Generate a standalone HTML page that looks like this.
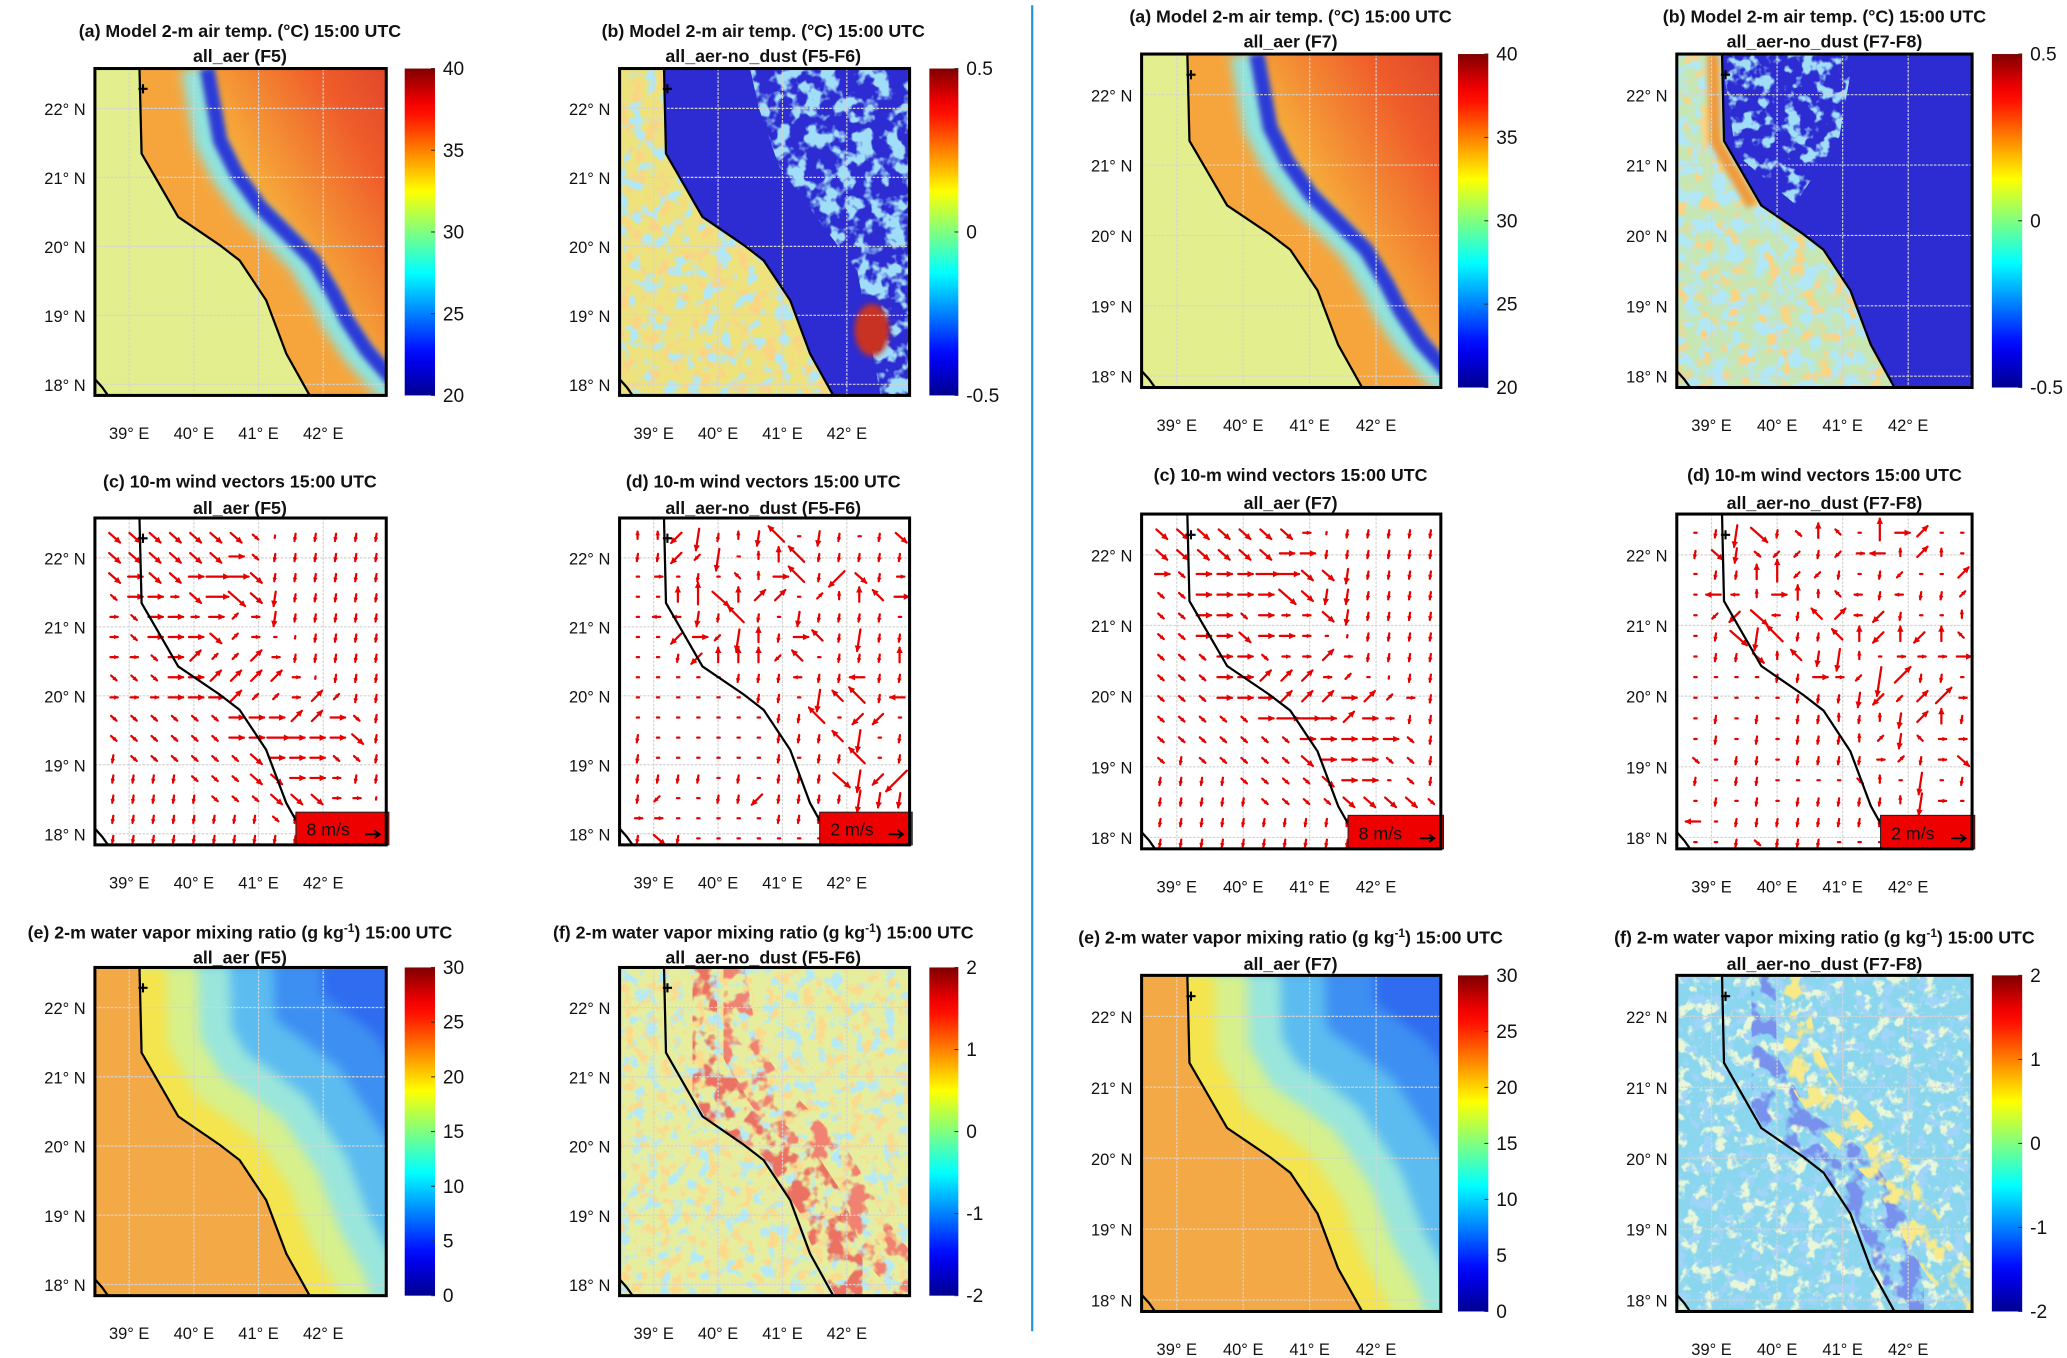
<!DOCTYPE html>
<html><head><meta charset="utf-8"><title>Model 2-m temperature, wind and moisture</title>
<style>
html,body{margin:0;padding:0;background:#fff;}
svg{display:block;}
text{font-family:"Liberation Sans",sans-serif;fill:#111;}
.t{font-weight:bold;font-size:13.5px;}
.tk{font-size:12.5px;}
.cbl{font-size:14.5px;}
</style></head>
<body>
<svg id="fig" xmlns="http://www.w3.org/2000/svg" width="2067" height="1358" viewBox="0 0 1568 1030.3" preserveAspectRatio="none">
<defs>
<linearGradient id="jet" x1="0" y1="1" x2="0" y2="0">
<stop offset="0" stop-color="#00008f"/><stop offset="0.1" stop-color="#0000e8"/><stop offset="0.14" stop-color="#0010ff"/>
<stop offset="0.375" stop-color="#00ffff"/><stop offset="0.625" stop-color="#ffff00"/><stop offset="0.86" stop-color="#ff1000"/><stop offset="0.9" stop-color="#ee0000"/><stop offset="1" stop-color="#800000"/>
</linearGradient>
<linearGradient id="gEast" x1="0" y1="1" x2="1" y2="0">
<stop offset="0" stop-color="#f2da4a"/><stop offset="0.45" stop-color="#f6aa3a"/><stop offset="0.75" stop-color="#ef5c2a"/><stop offset="1" stop-color="#d83a2c"/>
</linearGradient>
<filter id="bl2" x="-50%" y="-50%" width="200%" height="200%"><feGaussianBlur stdDeviation="2"/></filter>
<filter id="bl4" x="-50%" y="-50%" width="200%" height="200%"><feGaussianBlur stdDeviation="4"/></filter>
<filter id="bl8" x="-50%" y="-50%" width="200%" height="200%"><feGaussianBlur stdDeviation="8"/></filter>
</defs>
</svg>
<script>
// ---------- data ----------
const TEMP_TICKS = [20, 25, 30, 35, 40];
const DTEMP_TICKS = [-0.5, 0, 0.5];
const QV_TICKS = [0, 5, 10, 15, 20, 25, 30];
const DQV_TICKS = [-2, -1, 0, 1, 2];
const LAT_LABELS = ['22', '21', '20', '19', '18'];
const LON_LABELS = ['39', '40', '41', '42'];
const LAT_VALUES = [22, 21, 20, 19, 18];
const LON_VALUES = [39, 40, 41, 42];
const WIND_C5 = [
"se2 se2 se2 se2 se2 se2 se2 se1 s0 s1 s1 s1 s1 s1",
"se2 se2 se2 se2 se2 se2 e2 se1 s1 s1 s1 s1 s1 s1",
"se2 e2 se2 se2 e2 e3 e3 se2 s1 s1 s1 s1 s1 s1",
"se1 e2 e2 e1 se2 e3 se3 se2 s2 s1 s1 s1 s1 s1",
"e1 se1 e2 e2 e1 e2 ne1 e1 s2 s1 s1 s1 s1 s1",
"e1 se1 e2 e2 e2 se2 ne1 e1 e0 s0 s1 s1 s1 s1",
"e1 e1 se1 e2 ne2 ne1 ne1 ne2 e1 s1 s1 s1 s1 s1",
"se1 se1 se1 e2 e2 ne2 ne2 ne2 ne2 e1 s0 s1 s1 s1",
"e1 e1 e1 e2 e2 e2 ne2 ne1 ne1 e1 ne2 ne1 s1 s1",
"se1 se1 se1 se1 se1 se1 e2 e2 e2 ne2 ne2 e2 se1 s1",
"se1 se1 se1 se1 se1 se1 e2 e2 e3 e2 e2 e2 se2 s1",
"s1 se1 se1 se1 se1 se1 se1 se2 e2 e2 e2 se1 se1 s1",
"s1 s1 s1 s1 se1 se1 se1 se2 se2 e2 e2 e1 s1 s1",
"s1 s1 s1 s1 s1 se1 se1 se1 se2 se2 se2 e1 e1 s0",
"s1 s1 s1 s1 s1 s1 s1 s1 se1 s1 s1 s1 s1 s1",
"s1 s1 s1 s1 s1 s1 s1 s1 s1 s1 s1 s1 s1 s1"];
const WIND_D5 = [
"n1 n1 sw2 s3 s1 n1 s2 nw3 e0 s2 s1 e0 s1 se2",
"s1 s1 sw2 sw1 s3 e0 n1 n2 nw3 s1 s1 s1 s1 s1",
"e0 e1 e0 s1 e0 nw1 n1 e2 nw3 s1 sw3 se2 s1 e1",
"e0 e0 n2 n3 se3 n2 ne2 ne2 e0 ne1 n1 n2 nw2 e2",
"e0 w1 w1 s2 s1 nw3 s1 e0 s2 s1 s1 s1 s1 e0",
"e0 e0 sw2 e2 sw1 s3 n2 s1 e2 nw2 s1 s3 s1 s1",
"e0 e0 s1 sw2 n2 n2 n2 sw1 nw2 e0 s1 s1 s1 n2",
"e0 e0 e0 e0 e0 s1 s1 s1 w1 s1 s1 w2 s1 s1",
"e0 e0 e0 e0 e0 e0 s1 s1 e0 s3 nw2 nw3 s1 w2",
"e0 e0 e0 e0 e0 e0 e0 s1 s1 nw3 e0 sw2 sw2 e0",
"s1 e0 e0 e0 e0 e0 e0 s1 s1 s1 nw2 s3 e0 s1",
"s1 e0 e0 e0 e0 e0 e0 s1 e0 s1 s1 nw3 e0 s1",
"s1 s1 s1 s1 e0 s1 e0 s1 s1 s1 se3 s3 sw2 sw4",
"s1 sw1 e0 e0 s1 s1 sw2 s1 s1 s1 s1 s3 s2 s2",
"e1 e1 e0 e0 e0 e0 e0 s1 s1 s1 e0 e0 e0 e0",
"s1 se2 s1 e0 e0 e0 e0 e0 e0 e0 e0 e0 e0 e0"];
const WIND_C7 = [
"se2 se2 se2 se2 se2 se2 se2 e1 s0 s1 s1 s1 s1 s1",
"se2 se2 se2 se2 se2 se2 e2 e2 s1 s1 s1 s1 s1 s1",
"e2 se1 e2 e2 e2 e3 e3 se2 se2 s2 s1 s1 s1 s1",
"se1 se1 e2 e2 e2 e2 se3 se2 s2 s2 s1 s1 s1 s1",
"se1 se1 e2 e2 se1 e2 e1 e1 se2 s2 s1 s1 s1 s1",
"se1 se1 e2 e2 se2 e2 e2 e1 e0 s0 s1 s1 s1 s1",
"se1 se1 se1 e2 e2 se1 e1 e1 ne2 e1 s1 s1 s1 s1",
"se1 se1 se1 e2 e2 ne2 ne2 ne2 e1 ne1 e0 s0 s1 s1",
"se1 se1 se1 e2 e2 e2 ne2 ne2 ne2 e2 ne2 ne1 e1 s1",
"se1 se1 se1 se1 se1 e2 e3 e3 e2 ne2 e2 e1 s1 s1",
"se1 se1 se1 se1 se1 se1 se1 e2 e2 e2 e2 e2 se1 s1",
"se1 s1 se1 se1 se1 se1 se1 se2 e2 e2 e2 se1 se1 s1",
"s1 s1 s1 s1 se1 se1 se1 se1 se2 e2 e2 e0 se1 s1",
"s1 s1 s1 s1 s1 se1 se1 se1 se1 se2 se2 se2 se2 se1",
"s1 s1 s1 s1 s1 s1 s1 s1 s1 s1 s1 s1 s1 s1",
"s1 s1 s1 s1 s1 s1 s1 s1 s1 s1 s1 s1 s1 s1"];
const WIND_D7 = [
"e0 s1 s3 se3 s1 se1 n2 nw1 e0 n3 e2 ne2 e0 e0",
"s1 se2 s2 se1 sw1 sw1 s1 sw1 e1 w2 n1 ne2 n1 e0",
"e0 s1 s1 n2 n3 sw1 sw1 s1 e0 s1 sw1 e0 e0 ne2",
"e0 w2 w1 n1 e2 n2 n1 nw1 w1 s1 w1 s1 s1 ne1",
"e0 sw1 sw2 se3 w1 s1 nw2 ne2 w1 sw2 s1 e0 e0 n1",
"e0 s1 se3 s3 nw3 s1 s1 nw2 n2 sw2 n2 sw2 n2 nw1",
"e0 s1 s1 se2 n1 nw2 s2 s3 n1 e0 e1 e1 e1 e2",
"e0 e0 e0 e0 s1 s1 e2 e1 sw1 s4 ne3 s1 s1 e0",
"e0 e0 e0 e0 e0 s1 s1 s1 s2 sw2 sw1 ne2 ne3 e1",
"e0 s1 e0 s1 e0 s1 s1 n1 s1 n1 s2 ne2 n2 s1",
"e0 s1 e0 s1 e0 s1 s1 s1 n1 ne1 s2 nw1 e1 e1",
"se1 e0 s1 s1 e0 s1 s1 s1 s1 e1 ne1 s1 e1 se2",
"s1 e0 s1 s1 e0 e0 e0 e0 se1 n1 e0 s3 e0 s1",
"e0 s1 e0 s1 e0 s1 s1 s1 s1 s1 n1 s3 e1 e0",
"w2 e0 s1 s1 s1 s1 s1 s1 s1 s1 s1 s1 e0 e0",
"e0 e0 s1 se1 s1 s1 s1 e0 e0 e0 e0 e0 e0 e0"];

// ---------- geometry (fractions of map box) ----------
const COAST = [[0.153,0],[0.16,0.26],[0.286,0.454],[0.428,0.54],[0.497,0.587],[0.588,0.709],[0.657,0.872],[0.737,1]];
const ESC = [[0.36,0.0],[0.405,0.22],[0.462,0.322],[0.542,0.423],[0.634,0.505],[0.725,0.587],[0.794,0.689],[0.84,0.77],[0.908,0.862],[0.988,0.944],[1.05,1.0]];
const LON0 = 38.47, LON_SCALE = 0.222;
const LAT0 = 22.578, LAT_SCALE = 0.211;
function lonX(lon){return (lon-LON0)*LON_SCALE;}
function latY(lat){return (LAT0-lat)*LAT_SCALE;}

const L1={x0:72,x1:293,cb:[307,330],cx:182}, L2={x0:470,x1:690,cb:[705,727],cx:579};
const R1={x0:866,x1:1093,cb:[1106,1129],cx:979}, R2={x0:1272,x1:1496,cb:[1511,1534],cx:1384};
const LR=[{y0:52,y1:300,t1:23,t2:42},{y0:393,y1:641,t1:365,t2:385},{y0:734,y1:983,t1:707,t2:726}];
const RR=[{y0:41,y1:294,t1:12,t2:31},{y0:390,y1:644,t1:360,t2:381},{y0:740,y1:995,t1:711,t2:731}];
const PANELS=[
 {id:'a5',type:'temp',col:L1,row:LR[0],lab:'(a)',sub:'all_aer (F5)',ticks:TEMP_TICKS,seed:1},
 {id:'b5',type:'dtemp',col:L2,row:LR[0],lab:'(b)',sub:'all_aer-no_dust (F5-F6)',ticks:DTEMP_TICKS,seed:2},
 {id:'c5',type:'wind',col:L1,row:LR[1],lab:'(c)',sub:'all_aer (F5)',wind:WIND_C5,leg:'8 m/s'},
 {id:'d5',type:'wind',col:L2,row:LR[1],lab:'(d)',sub:'all_aer-no_dust (F5-F6)',wind:WIND_D5,leg:'2 m/s'},
 {id:'e5',type:'qv',col:L1,row:LR[2],lab:'(e)',sub:'all_aer (F5)',ticks:QV_TICKS,seed:3},
 {id:'f5',type:'dqv',col:L2,row:LR[2],lab:'(f)',sub:'all_aer-no_dust (F5-F6)',ticks:DQV_TICKS,seed:4},
 {id:'a7',type:'temp',col:R1,row:RR[0],lab:'(a)',sub:'all_aer (F7)',ticks:TEMP_TICKS,seed:5},
 {id:'b7',type:'dtemp7',col:R2,row:RR[0],lab:'(b)',sub:'all_aer-no_dust (F7-F8)',ticks:DTEMP_TICKS,seed:6},
 {id:'c7',type:'wind',col:R1,row:RR[1],lab:'(c)',sub:'all_aer (F7)',wind:WIND_C7,leg:'8 m/s'},
 {id:'d7',type:'wind',col:R2,row:RR[1],lab:'(d)',sub:'all_aer-no_dust (F7-F8)',wind:WIND_D7,leg:'2 m/s'},
 {id:'e7',type:'qv',col:R1,row:RR[2],lab:'(e)',sub:'all_aer (F7)',ticks:QV_TICKS,seed:7},
 {id:'f7',type:'dqv7',col:R2,row:RR[2],lab:'(f)',sub:'all_aer-no_dust (F7-F8)',ticks:DQV_TICKS,seed:8}
];

const NS='http://www.w3.org/2000/svg';
const svg=document.getElementById('fig');
const defs=svg.querySelector('defs');
function mk(tag,attrs,parent){const e=document.createElementNS(NS,tag);for(const k in attrs)e.setAttribute(k,attrs[k]);(parent||svg).appendChild(e);return e;}

let nzCount=0;
function noiseFilter(color,freq,seed,thr){
  const id='nz'+(nzCount++);
  const f=mk('filter',{id:id,x:'0',y:'0',width:'100%',height:'100%'},defs);
  
  
  const c=color.match(/\w\w/g).map(h=>(parseInt(h,16)/255).toFixed(3));
  mk('feTurbulence',{type:'fractalNoise',baseFrequency:freq,numOctaves:'3',seed:seed},f);
  mk('feColorMatrix',{type:'matrix',values:`0 0 0 0 ${c[0]} 0 0 0 0 ${c[1]} 0 0 0 0 ${c[2]} 7 0 0 0 ${-7*thr}`},f);
  mk('feComposite',{operator:'in',in2:'SourceGraphic'},f);
  return 'url(#'+id+')';
}

function P(p,fx,fy){return [p.x0+fx*(p.x1-p.x0), p.y0+fy*(p.y1-p.y0)];}
function pts(p,arr,dx){dx=dx||0;return arr.map(a=>{const q=P(p,a[0]+dx,a[1]);return q[0].toFixed(1)+','+q[1].toFixed(1);}).join(' ');}
function landPts(p){return pts(p,COAST.concat([[1.02,1],[1.02,-0.02],[0.153,-0.02]]));}

const DIRS={e:[1,0],ne:[0.71,-0.71],n:[0,-1],nw:[-0.71,-0.71],w:[-1,0],sw:[-0.71,0.71],s:[-0.15,0.99],se:[0.75,0.66]};

PANELS.forEach(function(pn){
  const p={x0:pn.col.x0,x1:pn.col.x1,y0:pn.row.y0,y1:pn.row.y1};
  const w=p.x1-p.x0;
  const g=mk('g',{});
  
  
  const cp=mk('clipPath',{id:'cp'+pn.id},defs);
  mk('rect',{x:p.x0,y:p.y0,width:w,height:p.y1-p.y0},cp);
  const cl=mk('clipPath',{id:'cl'+pn.id},defs);
  mk('polygon',{points:landPts(p)},cl);
  const fld=mk('g',{'clip-path':'url(#cp'+pn.id+')'},g);
  
  
  const land=mk('g',{'clip-path':'url(#cl'+pn.id+')'},fld);
  
  
  const R={x:p.x0,y:p.y0,width:w,height:p.y1-p.y0};
  const t=pn.type;
  if(t==='temp'){
    const sea=mk('rect',Object.assign({fill:'#e3ef8e'},R),fld);
    
    
    const l=mk('rect',Object.assign({fill:'#f6a53c'},R),land);
    
    
    const e=mk('polygon',{points:pts(p,ESC.concat([[1.1,1.05],[1.1,-0.05],[0.36,-0.05]])),fill:'url(#gEast)'},land);
    
    
    const c1=mk('polyline',{points:pts(p,ESC,-0.02),fill:'none',stroke:'#8fe3de','stroke-width':w*0.09,filter:'url(#bl4)'},land);
    
    
    const c2=mk('polyline',{points:pts(p,ESC,0.025),fill:'none',stroke:'#2a3ad8','stroke-width':w*0.05,filter:'url(#bl2)'},land);
    
    
  } else if(t==='dtemp'||t==='dtemp7'){
    const sea=mk('rect',Object.assign({fill:t==='dtemp'?'#eee27c':'#c6e6b4'},R),fld);
    
    
    const n1=mk('rect',Object.assign({fill:'#fff',filter:noiseFilter('70cdf0','0.09',pn.seed,t==='dtemp'?0.52:0.46)},R),fld);
    
    
    const n2=mk('rect',Object.assign({fill:'#fff',filter:noiseFilter('f4a83a','0.1',pn.seed+10,0.56)},R),fld);
    
    
    const l=mk('rect',Object.assign({fill:'#2c2cd2'},R),land);
    
    
    if(t==='dtemp'){
      const ep=mk('polygon',{points:pts(p,[[0.45,0],[1,0],[1,1],[0.9,1],[0.82,0.62],[0.7,0.48],[0.55,0.3],[0.48,0.12]]),fill:'#fff',filter:noiseFilter('5ab8f2','0.08',pn.seed+20,0.47)},land);
      
      
      const rp=mk('ellipse',{cx:P(p,0.87,0.8)[0],cy:P(p,0.87,0.8)[1],rx:w*0.06,ry:w*0.09,fill:'#c83020',filter:'url(#bl2)'},land);
      
      
    } else {
      const ep=mk('polygon',{points:pts(p,[[0.15,0],[0.6,0],[0.55,0.25],[0.4,0.45],[0.2,0.3]]),fill:'#fff',filter:noiseFilter('5ab8f2','0.09',pn.seed+20,0.5)},land);
      
      
      const st=mk('polyline',{points:pts(p,COAST.slice(0,3),-0.03),fill:'none',stroke:'#f09a3a','stroke-width':w*0.04,filter:'url(#bl2)'},fld);
      
      
    }
  } else if(t==='qv'){
    const sea=mk('rect',Object.assign({fill:'#f4a947'},R),fld);
    
    
    const l=mk('rect',Object.assign({fill:'#2f6cf0'},R),land);
    
    
    const bands=[[1.25,'#3d8ff2'],[0.92,'#5cbcf0'],[0.62,'#9ae6dc'],[0.4,'#d6f08c'],[0.18,'#f4e44e']];
    bands.forEach(function(b){
      const s=mk('polyline',{points:pts(p,COAST.concat([[0.8,1.2]])),fill:'none',stroke:b[1],'stroke-width':w*b[0],filter:'url(#bl4)'},land);
      
      
    });
  } else if(t==='dqv'||t==='dqv7'){
    const base=t==='dqv'?'#e6ee9e':'#8ad6ee';
    const sea=mk('rect',Object.assign({fill:base},R),fld);
    
    
    const n1=mk('rect',Object.assign({fill:'#fff',filter:noiseFilter(t==='dqv'?'74d2f0':'cfeeb0','0.1',pn.seed,0.53)},R),fld);
    
    
    const n2=mk('rect',Object.assign({fill:'#fff',filter:noiseFilter(t==='dqv'?'f6b442':'5aa8f0','0.11',pn.seed+10,0.54)},R),fld);
    
    
    const band=mk('polyline',{points:pts(p,COAST,0.1),fill:'none',stroke:'#fff','stroke-width':w*0.16,filter:noiseFilter(t==='dqv'?'d42a20':'3048d8','0.07',pn.seed+20,0.48)},land);
    
    
    const band2=mk('polyline',{points:pts(p,ESC,0.0),fill:'none',stroke:'#fff','stroke-width':w*0.14,filter:noiseFilter(t==='dqv'?'e0382a':'f0d040','0.07',pn.seed+30,0.5)},land);
    
    
  } else {
    const bg=mk('rect',Object.assign({fill:'#fff'},R),fld);
    
    
  }
  fld.appendChild(land);
  LAT_VALUES.forEach(function(v){
    const y=P(p,0,latY(v))[1];
    const l=mk('line',{x1:p.x0,x2:p.x1,y1:y,y2:y,stroke:'#d4d4d4','stroke-width':0.9,'stroke-dasharray':'2,1'},fld);
    
    
  });
  LON_VALUES.forEach(function(v){
    const x=P(p,lonX(v),0)[0];
    const l=mk('line',{x1:x,x2:x,y1:p.y0,y2:p.y1,stroke:'#d4d4d4','stroke-width':0.9,'stroke-dasharray':'2,1'},fld);
    
    
  });
  if(t==='wind'){
    pn.wind.forEach(function(row,r){
      row.trim().split(/\s+/).forEach(function(tok,c){
        const m=tok.match(/([a-z]+)(\d)/);
        const d=DIRS[m[1]], lv=+m[2];
        const q=P(p,0.062+c*0.0695,0.056+r*0.0616);
        const len=lv===0?1.8:lv*5.5;
        const x1=q[0]-d[0]*len*0.35, y1=q[1]-d[1]*len*0.35;
        const x2=q[0]+d[0]*len*0.65, y2=q[1]+d[1]*len*0.65;
        const a=mk('line',{x1:x1,y1:y1,x2:x2,y2:y2,stroke:'#e60000','stroke-width':1.7,'stroke-linecap':'round'},fld);
        
        
        if(lv>0){
          const hs=Math.min(4,len*0.5), px=-d[1], py=d[0];
          const bx=x2-d[0]*hs, by=y2-d[1]*hs;
          const h=mk('polygon',{points:`${x2+d[0]*1},${y2+d[1]*1} ${bx+px*hs*0.6},${by+py*hs*0.6} ${bx-px*hs*0.6},${by-py*hs*0.6}`,fill:'#e60000'},fld);
          
          
        }
      });
    });
  }
  const co=mk('polyline',{points:pts(p,COAST),fill:'none',stroke:'#000','stroke-width':1.7},g);
  
  
  const co2=mk('polyline',{points:pts(p,[[0,0.95],[0.025,0.975],[0.045,1]]),fill:'none',stroke:'#000','stroke-width':1.7},g);
  
  
  const mq=P(p,0.165,0.062);
  const mp=mk('path',{d:`M${mq[0]-3.5},${mq[1]}h7M${mq[0]},${mq[1]-3.5}v7`,stroke:'#000','stroke-width':1.6},g);
  
  
  if(t==='wind'){
    const lg=P(p,0.69,0.9);
    const lb=mk('rect',{x:lg[0],y:lg[1],width:p.x1-lg[0]+2,height:p.y1-lg[1],fill:'#ee0000',stroke:'#222','stroke-width':0.8},g);
    
    
    const lt=mk('text',{x:lg[0]+8,y:p.y1-7,'font-size':'13.5'},g);
    lt.textContent=pn.leg;
    
    
    const la=mk('path',{d:`M${p.x1-16},${p.y1-8}h11m-4,-3l4,3l-4,3`,stroke:'#000','stroke-width':1.4,fill:'none'},g);
    
    
  }
  const fr=mk('rect',{x:p.x0,y:p.y0,width:w,height:p.y1-p.y0,fill:'none',stroke:'#000','stroke-width':2.3},g);
  
  
  LAT_VALUES.forEach(function(v,i){
    const y=P(p,0,latY(v))[1];
    const tx=mk('text',{x:p.x0-7,y:y+5,'text-anchor':'end',class:'tk'},g);
    tx.textContent=LAT_LABELS[i]+'° N';
    
    
  });
  LON_VALUES.forEach(function(v,i){
    const x=P(p,lonX(v),0)[0];
    const tx=mk('text',{x:x,y:p.y1+33,'text-anchor':'middle',class:'tk'},g);
    tx.textContent=LON_LABELS[i]+'° E';
    
    
  });
  const t1=mk('text',{x:pn.col.cx,y:pn.row.t1+5,'text-anchor':'middle',class:'t'},g);
  
  
  if(t==='temp'||t==='dtemp'||t==='dtemp7'){
    t1.textContent=pn.lab+' Model 2-m air temp. (°C) 15:00 UTC';
  } else if(t==='wind'){
    t1.textContent=pn.lab+' 10-m wind vectors 15:00 UTC';
  } else {
    const s1=mk('tspan',{},t1);s1.textContent=pn.lab+' 2-m water vapor mixing ratio (g kg';
    const s2=mk('tspan',{dy:'-5','font-size':'9'},t1);s2.textContent='-1';
    const s3=mk('tspan',{dy:'5'},t1);s3.textContent=') 15:00 UTC';
  }
  const t2=mk('text',{x:pn.col.cx,y:pn.row.t2+5,'text-anchor':'middle',class:'t'},g);
  t2.textContent=pn.sub;
  
  
  if(pn.ticks){
    const cb=mk('rect',{x:pn.col.cb[0],y:p.y0,width:pn.col.cb[1]-pn.col.cb[0],height:p.y1-p.y0,fill:'url(#jet)'},g);
    
    
    const lo=pn.ticks[0], hi=pn.ticks[pn.ticks.length-1];
    pn.ticks.forEach(function(v){
      const y=p.y1-(v-lo)/(hi-lo)*(p.y1-p.y0);
      const tk=mk('line',{x1:pn.col.cb[1]-3,x2:pn.col.cb[1],y1:y,y2:y,stroke:'#333','stroke-width':0.8},g);
      
      
      const tx=mk('text',{x:pn.col.cb[1]+6,y:y+5,class:'cbl'},g);
      tx.textContent=String(v);
      
      
    });
  }
});
const sep=mk('line',{x1:783,x2:783,y1:4,y2:1010,stroke:'#1c8fe0','stroke-width':1.6});


</script>
</body></html>
